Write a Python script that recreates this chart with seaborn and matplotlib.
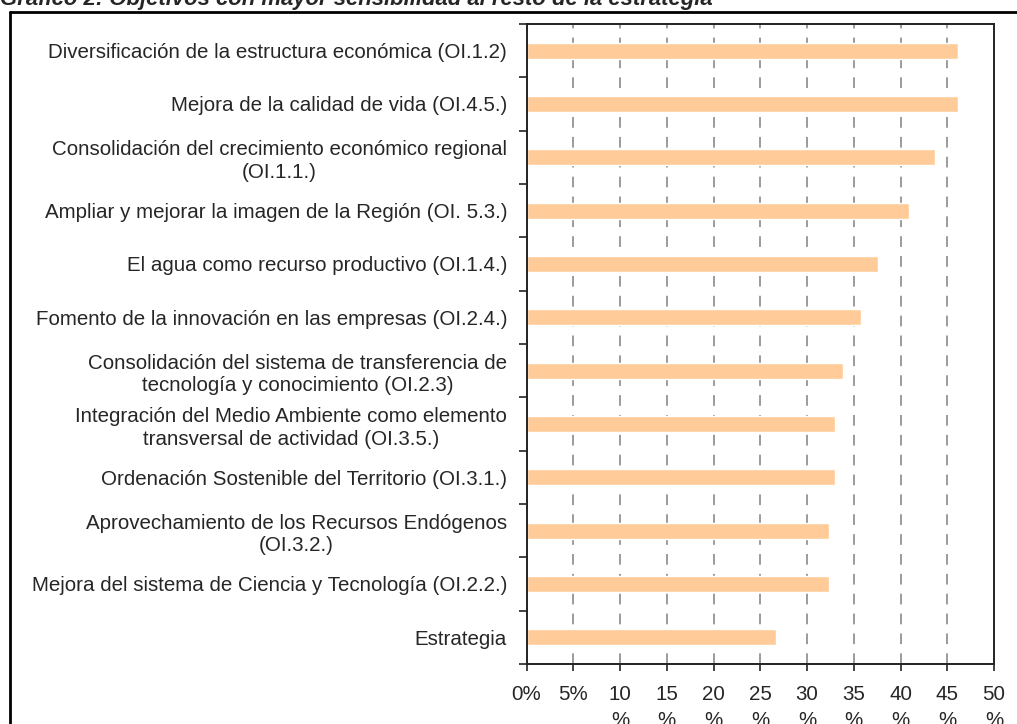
import matplotlib
matplotlib.use('Agg')
import matplotlib.pyplot as plt
import seaborn as sns
import pandas as pd
from matplotlib.lines import Line2D

# Objetivos (de arriba a abajo) y sensibilidad en %
objetivos = [
    'Diversificación de la estructura económica (OI.1.2)',
    'Mejora de la calidad de vida (OI.4.5.)',
    'Consolidación del crecimiento económico regional\n(OI.1.1.)',
    'Ampliar y mejorar la imagen de la Región (OI. 5.3.)',
    'El agua como recurso productivo (OI.1.4.)',
    'Fomento de la innovación en las empresas (OI.2.4.)',
    'Consolidación del sistema de transferencia de\ntecnología y conocimiento (OI.2.3)',
    'Integración del Medio Ambiente como elemento\ntransversal de actividad (OI.3.5.)',
    'Ordenación Sostenible del Territorio (OI.3.1.)',
    'Aprovechamiento de los Recursos Endógenos\n(OI.3.2.)',
    'Mejora del sistema de Ciencia y Tecnología (OI.2.2.)',
    'Estrategia',
]
sensibilidad = [46.2, 46.2, 43.7, 40.9, 37.6, 35.8, 33.9, 33.0, 33.0, 32.3, 32.3, 26.7]

x_ticks = [0, 5, 10, 15, 20, 25, 30, 35, 40, 45, 50]
x_tick_labels = ['0%', '5%', '10\n%', '15\n%', '20\n%', '25\n%', '30\n%',
                 '35\n%', '40\n%', '45\n%', '50\n%']

titulo = 'Gráfico 2: Objetivos con mayor sensibilidad al resto de la estrategia'

sns.set_style('white')
plt.rcParams['font.family'] = ['Liberation Sans', 'DejaVu Sans']

df = pd.DataFrame({'objetivo': objetivos, 'valor': sensibilidad})

fig = plt.figure(figsize=(10.17, 7.24), dpi=100)
ax = fig.add_axes([0.5177, 0.0829, 0.4597, 0.884])

sns.barplot(data=df, x='valor', y='objetivo', color='#FFCC99', width=0.3,
            saturation=1, ax=ax, zorder=2)

ax.set_xlim(0, 50)
ax.set_ylim(len(objetivos) - 0.5, -0.5)
ax.set_xlabel('')
ax.set_ylabel('')

# dashed vertical gridlines
for x in x_ticks[1:-1]:
    ax.axvline(x, color='#808080', lw=1.1, dashes=(7, 6), zorder=1)

ax.set_xticks(x_ticks)
ax.set_xticklabels(x_tick_labels, fontsize=14.8, linespacing=1.5)
ax.tick_params(axis='x', direction='out', length=5, width=1.2, color='#222222',
               pad=10, bottom=True)

# labels at category centres, tick marks at category boundaries
ax.set_yticks(range(len(objetivos)))
ax.set_yticklabels(objetivos, fontsize=14.8, linespacing=1.25, multialignment='center')
ax.tick_params(axis='y', which='major', length=0, pad=14, left=True)
ax.set_yticks([i - 0.5 for i in range(len(objetivos) + 1)], minor=True)
ax.tick_params(axis='y', which='minor', direction='out', length=6, width=1.2,
               color='#222222', left=True)

for s in ax.spines.values():
    s.set_visible(True)
    s.set_color('#222222')
    s.set_linewidth(1.4)

# outer frame and title
fig.add_artist(Line2D([10 / 1017, 10 / 1017], [0, 1 - 12 / 724], color='black', lw=2))
fig.add_artist(Line2D([10 / 1017, 1], [1 - 12 / 724, 1 - 12 / 724], color='black', lw=2))
fig.text(0.0, 1 - 5 / 724, titulo, fontsize=15.9, fontweight='bold', fontstyle='italic',
         ha='left', va='baseline')

fig.savefig('out.png', dpi=100)
